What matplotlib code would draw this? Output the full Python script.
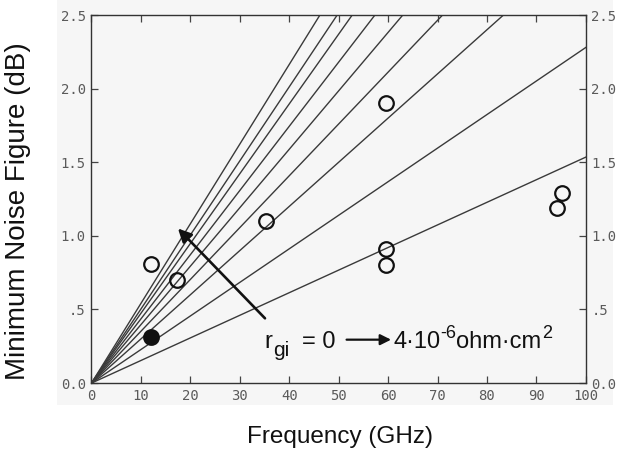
import numpy as np
import matplotlib

matplotlib.use("Agg")
import matplotlib.pyplot as plt
from matplotlib.patches import Rectangle

plt.rcParams["font.family"] = ["Liberation Sans", "DejaVu Sans"]

# ---- data ------------------------------------------------------------------
# slopes (dB/GHz) of the fan lines, r_gi = 0 ... 4e-6 ohm*cm^2
slopes = [0.01535, 0.0228, 0.0300, 0.0352, 0.0397, 0.0436, 0.0474, 0.0503, 0.0541]

meas_f = [12.0, 17.3, 35.3, 59.6, 59.6, 59.6, 94.1, 95.1]
meas_nf = [0.81, 0.70, 1.10, 1.90, 0.91, 0.80, 1.19, 1.29]

ref_f = [12.0]
ref_nf = [0.31]

xticks = [0, 10, 20, 30, 40, 50, 60, 70, 80, 90, 100]
xtick_labels = ["0", "10", "20", "30", "40", "50", "60", "70", "80", "90", "100"]
yticks = [0.0, 0.5, 1.0, 1.5, 2.0, 2.5]
ytick_labels = ["0.0", ".5", "1.0", "1.5", "2.0", "2.5"]

INK = "#111111"
LINE = "#3a3a3a"
TICK = "#5a5a5a"
PAPER = "#f6f6f6"

fig = plt.figure(figsize=(6.18, 4.55), dpi=100)
fig.patch.set_facecolor("white")
# scanned plot region
fig.add_artist(Rectangle((57 / 618, 1 - 405 / 455), 556 / 618, 405 / 455,
                         transform=fig.transFigure, facecolor=PAPER,
                         edgecolor="none", zorder=0))

ax = fig.add_axes([0.148, 0.158, 0.800, 0.809])
ax.set_facecolor(PAPER)
ax.set_xlim(0, 100)
ax.set_ylim(0, 2.5)

f = np.array([0.0, 100.0])
for k in slopes:
    ax.plot(f, k * f, color=LINE, lw=1.0, zorder=2)

ax.plot(meas_f, meas_nf, "o", ms=10.5, mfc="none", mec=INK, mew=1.6, zorder=4)
ax.plot(ref_f, ref_nf, "o", ms=10.5, mfc=INK, mec=INK, mew=1.6, zorder=4)

# direction of increasing r_gi
ax.annotate("", xy=(17.5, 1.05), xytext=(35.1, 0.44),
            arrowprops=dict(arrowstyle="-|>", color=INK, lw=1.9,
                            mutation_scale=20, shrinkA=0, shrinkB=0), zorder=5)


def chain(prev, s, dx, dy, fs):
    """Place text s right after artist prev, shifted by (dx, dy) points."""
    return ax.annotate(s, xy=(1, 0), xycoords=prev, xytext=(dx, dy),
                       textcoords="offset points", fontsize=fs, color=INK,
                       ha="left", va="bottom", zorder=6)


# "r_gi = 0 -> 4·10^-6 ohm·cm^2"
r = ax.text(35.0, 0.24, "r", fontsize=17, color=INK, ha="left",
            va="baseline", zorder=6)
gi = chain(r, "gi", 0.5, -5, 15)
chain(gi, "= 0", 9, 5, 17)
ax.annotate("", xy=(60.6, 0.295), xytext=(51.6, 0.295),
            arrowprops=dict(arrowstyle="-|>", color=INK, lw=1.6,
                            mutation_scale=16, shrinkA=0, shrinkB=0), zorder=5)
t1 = ax.text(61.0, 0.24, "4·10", fontsize=17, color=INK, ha="left",
             va="baseline", zorder=6)
t2 = chain(t1, "-6", 0, 8, 13)
t3 = chain(t2, "ohm·cm", 0, -8, 17)
chain(t3, "2", 0.5, 8, 13)

# frame and plotter-style ticks
for s in ax.spines.values():
    s.set_color("#333333")
    s.set_linewidth(1.0)
ax.tick_params(direction="in", length=5, width=0.9, color="#444444",
               top=True, right=True, labelright=True, labelsize=10,
               labelcolor=TICK, pad=4)
ax.set_xticks(xticks)
ax.set_xticklabels(xtick_labels)
ax.set_yticks(yticks)
ax.set_yticklabels(ytick_labels)
for lab in ax.get_xticklabels() + ax.get_yticklabels():
    lab.set_family("DejaVu Sans Mono")

fig.text(340 / 618, 1 - 437 / 455, "Frequency (GHz)", fontsize=17.5,
         ha="center", va="center", color=INK)
fig.text(18 / 618, 1 - 211 / 455, "Minimum Noise Figure (dB)", fontsize=20,
         ha="center", va="center", rotation=90, color=INK)

fig.savefig("out.png", dpi=100)
